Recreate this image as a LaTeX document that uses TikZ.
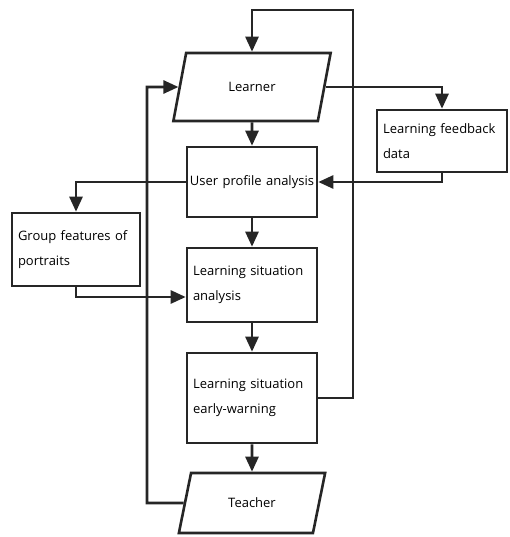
\documentclass[tikz,border=0pt]{standalone}
\usepackage{fontspec}
\setmainfont{Open Sans}
\usetikzlibrary{shapes.geometric,arrows.meta}
\begin{document}
\begin{tikzpicture}[x=1pt,y=-1pt,
    txt/.style={font=\fontsize{13}{25}\selectfont},
    box/.style={txt,draw=black!85,line width=2.6pt,minimum width=130pt,
        text width=118pt,inner xsep=6pt,align=left},
    para/.style={txt,trapezium,trapezium left angle=72,trapezium right angle=108,
        trapezium stretches=true,draw=black!85,line width=2.6pt},
    arr/.style={draw=black!85,line width=2.6pt,-{Triangle[length=15pt,width=13pt]}}]
    \useasboundingbox[fill=white] (0,0) rectangle (509,537);

    \node[para,minimum width=158pt,minimum height=68pt] (learner) at (252,87) {Learner};
    \node[box,minimum height=62pt] (feedback) at (442,141) {Learning feedback\\data};
    \node[box,minimum height=70pt,text width=126pt,inner xsep=2pt,align=center] (profile) at (252,182) {User profile analysis};
    \node[box,minimum width=128pt,text width=116pt,minimum height=73pt] (group) at (76,249.5) {Group features of\\portraits};
    \node[box,minimum height=74pt] (analysis) at (252,285) {Learning situation\\analysis};
    \node[box,minimum height=90pt] (warning) at (252,398) {Learning situation\\early-warning};
    \node[para,minimum width=147pt,minimum height=60pt] (teacher) at (252,503) {Teacher};

    \path (353,10) coordinate (topR);
    \path (147,503) coordinate (loopL);

    \draw[arr] (learner.south) -- (profile.north);
    \draw[arr] (profile.south) -- (analysis.north);
    \draw[arr] (analysis.south) -- (warning.north);
    \draw[arr] (warning.south) -- (teacher.north);
    \draw[arr] (learner.east) -| (feedback.north);
    \draw[arr] (feedback.south) |- (profile.east);
    \draw[arr] (profile.west) -| (group.north);
    \draw[arr] (group.south) |- ([yshift=-12pt]analysis.west);
    \draw[arr] (warning.east) -| (topR) -| (learner.north);
    \draw[arr] (teacher.west) -- (loopL) |- (learner.west);
\end{tikzpicture}
\end{document}
